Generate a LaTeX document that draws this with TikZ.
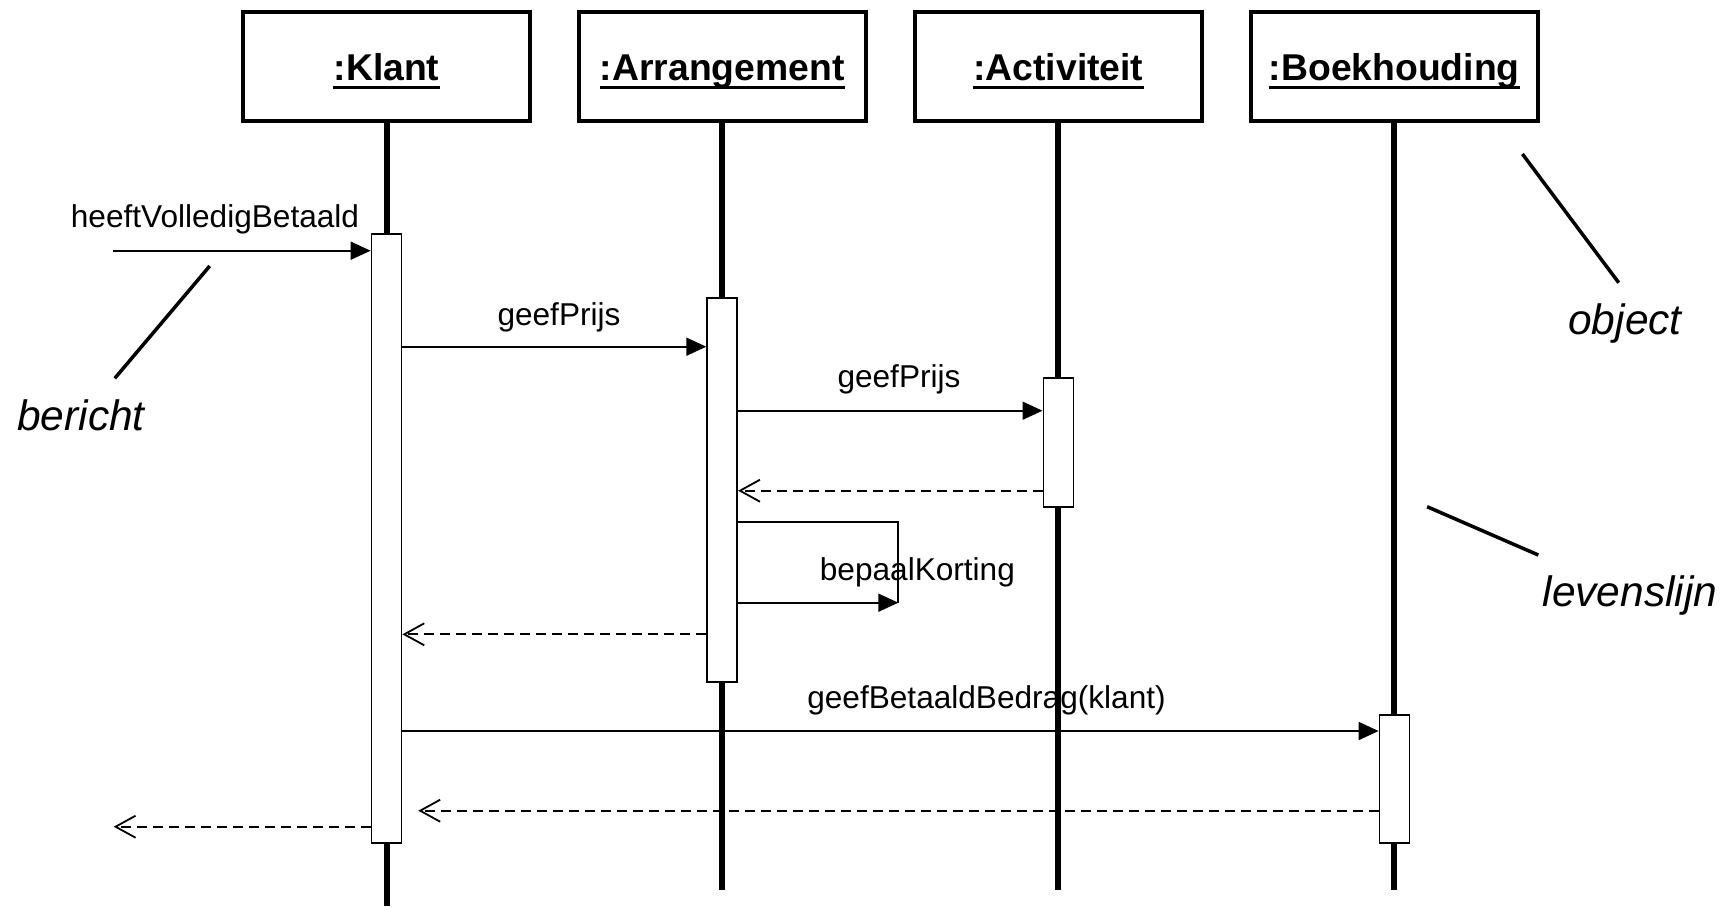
\documentclass[tikz,border=0pt]{standalone}
\usepackage{fontspec}
\setmainfont{Liberation Sans}
\usetikzlibrary{arrows.meta}
\begin{document}
\begin{tikzpicture}[x=1pt,y=-1pt,
  objbox/.style={draw,line width=4.3pt,minimum width=287pt,minimum height=109pt,inner sep=0pt},
  objname/.style={font=\fontsize{37.3}{44}\selectfont\bfseries,anchor=base,inner sep=0pt},
  lifeline/.style={line width=6pt},
  actbox/.style={draw,fill=white,line width=1.8pt,minimum width=30pt,inner sep=0pt},
  call/.style={line width=1.8pt,-{Triangle[length=20pt,width=18pt]}},
  reply/.style={line width=1.8pt,dash pattern=on 10pt off 6pt,-{Straight Barb[length=20pt,width=22pt]}},
  msg/.style={font=\fontsize{31.6}{38}\selectfont,anchor=base,inner sep=0pt},
  note/.style={font=\fontsize{42.5}{50}\selectfont\itshape,anchor=base,inner sep=0pt},
  noteline/.style={line width=3.5pt},
  uline/.style={line width=3.3pt},
]
\useasboundingbox (0,0) rectangle (1731,906);

% object boxes with underlined names
\node[objbox] (k) at (386.5,66.5) {};
\node[objbox] (a) at (722.2,66.5) {};
\node[objbox] (v) at (1058.4,66.5) {};
\node[objbox] (b) at (1394.3,66.5) {};
\node[objname] (kt) at (386.5,80) {:Klant};
\node[objname] (at) at (722.2,80) {:Arrangement};
\node[objname] (vt) at (1058.4,80) {:Activiteit};
\node[objname] (bt) at (1394.3,80) {:Boekhouding};
\foreach \t in {kt,at,vt,bt}
  \draw[uline] ([yshift=-7.3pt]\t.base west) -- ([yshift=-7.3pt]\t.base east);

% lifelines
\coordinate (kend) at (386.5,906);
\coordinate (lend) at (0,890);
\draw[lifeline] (k.south) -- (kend);
\draw[lifeline] (a.south) -- (a.south |- lend);
\draw[lifeline] (v.south) -- (v.south |- lend);
\draw[lifeline] (b.south) -- (b.south |- lend);

% activation bars
\node[actbox,minimum height=608.4pt] (actK) at (386.5,538.5) {};
\node[actbox,minimum height=384pt]   (actA) at (722.2,490.3) {};
\node[actbox,minimum height=128.4pt] (actV) at (1058.4,442.5) {};
\node[actbox,minimum height=127.7pt] (actB) at (1394.5,778.9) {};

% message levels
\coordinate (y1) at (0,250.7);
\coordinate (y2) at (0,346.7);
\coordinate (y3) at (0,410.7);
\coordinate (y4) at (0,490.7);
\coordinate (y5) at (0,522.3);
\coordinate (y6) at (0,634.3);
\coordinate (y7) at (0,731);
\coordinate (y8) at (0,810.7);
\coordinate (y9) at (0,826.7);

% incoming and outgoing messages
\coordinate (inStart) at (113,250.7);
\coordinate (outEnd) at (113.7,826.7);
\draw[call] (inStart) -- (actK.west |- y1);
\node[msg] (m1) at (215,227.7) {heeftVolledigBetaald};
\draw[reply] (actK.west |- y9) -- (outEnd);

% calls and replies
\draw[call] (actK.east |- y2) -- (actA.west |- y2);
\node[msg] (m2) at (559,325.5) {geefPrijs};
\draw[call] (actA.east |- y3) -- (actV.west |- y3);
\node[msg] (m3) at (899,387.7) {geefPrijs};
\draw[reply] (actV.west |- y4) -- (actA.east |- y4);

% self call
\coordinate (sc) at (898.3,602.7);
\draw[line width=1.8pt] (actA.east |- y5) -| (sc);
\draw[call] (actA.east |- sc) -- (sc);
\node[msg] (m5) at (917.4,580) {bepaalKorting};

\draw[reply] (actA.west |- y6) -- (actK.east |- y6);
\draw[call] (actK.east |- y7) -- (actB.west |- y7);
\node[msg] (m7) at (986.5,708.5) {geefBetaaldBedrag(klant)};
\coordinate (retB) at (418.3,810.7);
\draw[reply] (actB.west |- y8) -- (retB);

% annotations
\coordinate (n1a) at (209.7,266);
\coordinate (n1b) at (114.8,378.3);
\draw[noteline] (n1a) -- (n1b);
\node[note] (bericht) at (81,430) {bericht};
\coordinate (n2a) at (1522.4,154);
\coordinate (n2b) at (1618.7,282.7);
\draw[noteline] (n2a) -- (n2b);
\node[note] (object) at (1625,334) {object};
\coordinate (n3a) at (1427.1,506.7);
\coordinate (n3b) at (1538.3,555);
\draw[noteline] (n3a) -- (n3b);
\node[note] (levenslijn) at (1630,606.5) {levenslijn};
\end{tikzpicture}
\end{document}
